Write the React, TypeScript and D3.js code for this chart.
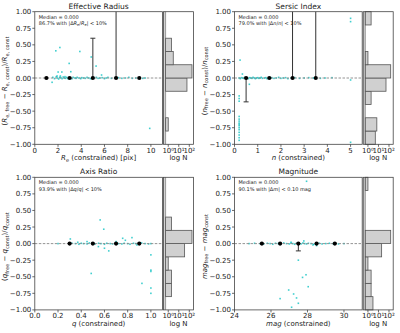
import React from 'react';
import * as d3 from 'd3';

// ---------- shared ----------
const binEdges = [-1, -0.8, -0.6, -0.4, -0.2, 0, 0.2, 0.4, 0.6, 0.8, 1.0];
const yTicks = [-1, -0.75, -0.5, -0.25, 0, 0.25, 0.5, 0.75, 1.0];
const histTicks = [1, 10, 100];
const histTickLabels = ['10⁰', '10¹', '10²'];

// ---------- Panel 1: Effective Radius ----------
const reXTicks = [0, 2, 4, 6, 8, 10];
const reZero: [number, number][] = [
  [1.55, 0.01], [1.7, -0.01], [1.85, 0.02], [1.95, 0.0], [2.05, -0.015], [2.15, 0.01], [2.25, 0.005], [2.35, -0.01],
  [2.45, 0.015], [2.55, 0.0], [2.65, -0.005], [2.75, 0.01], [2.85, -0.01], [2.95, 0.005], [3.05, 0.0], [3.2, -0.01],
  [3.3, 0.01], [3.45, 0.0], [3.55, -0.005], [3.65, 0.01], [3.8, 0.0], [3.95, -0.01], [4.05, 0.005], [4.2, 0.0],
  [4.35, -0.005], [4.5, 0.01], [4.65, 0.0], [4.8, -0.01], [4.95, 0.005], [5.1, 0.0], [5.3, 0.01], [5.45, -0.005],
  [5.6, 0.0], [5.8, 0.005], [6.0, -0.01], [6.15, 0.0], [6.3, 0.01], [6.6, -0.005], [6.9, 0.0], [7.2, 0.005],
  [7.5, -0.005], [7.8, 0.0], [8.1, 0.01], [8.4, -0.005], [8.7, 0.0], [9.0, 0.005], [9.3, -0.005], [9.5, 0.0],
];
const reOut: [number, number][] = [
  [1.81, 0.41], [2.16, 0.46], [3.88, 0.4], [2.96, 0.22], [4.86, 0.317], [5.28, 0.18], [2.01, 0.09], [2.33, 0.09],
  [3.1, 0.095], [1.92, 0.03], [1.49, -0.065], [5.75, 0.045], [9.9, -0.76], [2.2, 0.03], [2.6, 0.02],
];
const reBinX = [1, 3, 5, 7, 9];
const reBinY = [0, 0, 0, 0, 0];
const reErrLo = [0, 0, 0, 0, 0];
const reErrHi = [0, 0, 0.6, 1.5, 0];
const reHist = [0, 1, 0, 0, 60, 180, 3, 2, 0, 0];

// ---------- Panel 2: Sersic Index ----------
const nXTicks = [0, 1, 2, 3, 4, 5];
const nZero: [number, number][] = [
  [0.2, 0.0], [0.25, -0.01], [0.3, 0.005], [0.35, 0.0], [0.4, -0.005], [0.45, 0.01], [0.55, 0.0], [0.6, -0.01],
  [0.65, 0.005], [0.7, 0.0], [0.75, -0.005], [0.8, 0.01], [0.85, 0.0], [0.9, -0.01], [0.95, 0.0], [1.0, 0.005],
  [1.05, -0.005], [1.1, 0.0], [1.15, 0.01], [1.2, -0.005], [1.3, 0.0], [1.35, 0.005], [1.4, -0.01], [1.55, 0.0],
  [1.6, 0.005], [1.7, -0.005], [1.8, 0.0], [1.9, 0.01], [2.0, -0.005], [2.1, 0.0], [2.2, 0.005], [2.3, -0.01],
  [2.45, 0.0], [2.6, 0.005], [2.8, -0.005], [3.0, 0.0], [3.2, 0.005], [3.4, 0.0], [3.7, -0.005], [3.9, 0.0],
  [4.2, 0.005], [5.0, -0.03],
];
const nOut: [number, number][] = [
  [0.24, 0.27], [0.34, 0.06], [0.64, -0.095], [0.2, -0.27], [0.2, -0.31], [0.2, -0.35], [0.2, -0.58], [0.2, -0.62],
  [0.2, -0.65], [0.2, -0.68], [0.2, -0.7], [0.2, -0.72], [0.2, -0.75], [0.2, -0.78], [0.2, -0.82], [0.2, -0.86],
  [0.2, -0.9], [0.2, -0.94], [5.0, 0.9], [5.0, 0.85], [5.0, -0.97],
];
const nBinX = [0.5, 1.5, 2.5, 3.5];
const nBinY = [0, 0, 0, 0];
const nErrLo = [0.36, 0, 0, 0];
const nErrHi = [0, 0, 1.5, 1.5];
const nHist = [5, 7, 0, 2, 52, 145, 1, 0, 0, 2];

// ---------- Panel 3: Axis Ratio ----------
const qXTicks = [0, 0.2, 0.4, 0.6, 0.8, 1.0];
const qZero: [number, number][] = [
  [0.2, 0.0], [0.3, -0.005], [0.32, 0.005], [0.35, 0.0], [0.38, -0.01], [0.4, 0.005], [0.42, 0.0], [0.45, -0.005],
  [0.47, 0.01], [0.5, 0.0], [0.52, -0.005], [0.55, 0.005], [0.57, 0.0], [0.6, -0.01], [0.62, 0.005], [0.65, 0.0],
  [0.67, -0.005], [0.7, 0.01], [0.72, 0.0], [0.75, -0.005], [0.77, 0.005], [0.8, 0.0], [0.82, -0.01], [0.85, 0.005],
  [0.87, 0.0], [0.9, -0.005], [0.92, 0.01], [0.95, 0.0], [0.98, -0.005], [1.0, 0.0], [0.37, 0.02], [0.88, -0.02],
];
const qOut: [number, number][] = [
  [0.563, 0.357], [0.594, 0.217], [0.306, 0.07], [0.757, 0.08], [0.837, 0.09], [0.78, 0.05], [0.548, -0.045],
  [0.6, -0.07], [0.637, -0.11], [0.486, -0.45], [1.0, -0.17], [1.0, -0.4], [1.0, -0.42], [0.923, -0.6],
  [1.0, -0.67], [1.0, -0.75], [0.45, 0.03], [0.7, 0.03],
];
const qBinX = [0.3, 0.5, 0.7, 0.9];
const qBinY = [0, 0, 0, 0];
const qErrLo = [0, 0, 0, 0];
const qErrHi = [0, 0, 0, 0];
const qHist = [0, 2, 2, 1, 36, 180, 2, 0, 0, 0];

// ---------- Panel 4: Magnitude ----------
const mXTicks = [24, 26, 28, 30];
const mZero: [number, number][] = [
  [24.8, 0.0], [25.1, 0.005], [25.4, 0.0], [25.6, -0.005], [25.8, 0.005], [25.95, 0.0], [26.1, -0.01], [26.25, 0.005],
  [26.4, 0.0], [26.55, -0.005], [26.7, 0.01], [26.85, 0.0], [27.0, -0.005], [27.1, 0.005], [27.2, 0.0], [27.3, -0.01],
  [27.4, 0.005], [27.55, 0.0], [27.65, -0.005], [27.75, 0.01], [27.85, 0.0], [27.95, -0.005], [28.05, 0.005],
  [28.2, 0.0], [28.35, -0.01], [28.5, 0.0], [28.65, 0.005], [28.8, -0.005], [29.0, 0.0], [29.2, 0.005], [29.4, 0.0],
  [29.7, -0.005], [30.0, 0.0],
];
const mOut: [number, number][] = [
  [27.95, 0.94], [27.5, -0.25], [27.92, -0.47], [27.73, -0.51], [28.04, -0.65], [26.97, -0.7], [27.24, -0.76],
  [27.4, -0.82], [26.5, -0.83], [27.5, -0.9], [27.13, -0.96], [27.8, 0.04], [28.5, -0.03], [27.1, 0.02], [28.3, -0.02],
];
const mBinX = [25.5, 26.5, 27.5, 28.5, 29.5];
const mBinY = [0, 0, 0, 0, 0];
const mErrLo = [0, 0, 0.11, 0, 0];
const mErrHi = [0, 0, 0, 0, 0];
const mHist = [3, 2, 2, 1, 20, 145, 0, 0, 0, 1];

// ---------- layout ----------
const FONT = 'DejaVu Sans, sans-serif';
const AX_W = 127.7;
const AX_H = 132.6;
const HIST_GAP = 1;
const HIST_W = 30;
const SPINE = '#444';

type Seg = { t: string; i?: boolean; s?: boolean };

function MText(props: { segs: Seg[]; x: number; y: number; size: number; anchor?: string; rotate?: boolean; fill?: string }) {
  const { segs, x, y, size, anchor = 'start', rotate = false, fill = '#222' } = props;
  let prevSub = false;
  const shift = size * 0.28;
  const spans = segs.map((sg, k) => {
    let dy = 0;
    if (sg.s && !prevSub) dy = shift;
    if (!sg.s && prevSub) dy = -shift;
    prevSub = !!sg.s;
    return (
      <tspan key={k} dy={dy} fontStyle={sg.i ? 'italic' : 'normal'} fontSize={sg.s ? size * 0.72 : size}>
        {sg.t}
      </tspan>
    );
  });
  return (
    <text
      x={rotate ? 0 : x}
      y={rotate ? 0 : y}
      transform={rotate ? `translate(${x},${y}) rotate(-90)` : undefined}
      textAnchor={anchor as any}
      fontFamily={FONT}
      fontSize={size}
      fill={fill}
    >
      {spans}
    </text>
  );
}

type PanelProps = {
  id: string;
  left: number;
  top: number;
  title: string;
  xDomain: [number, number];
  xTicks: number[];
  xFmt: (v: number) => string;
  zero: [number, number][];
  out: [number, number][];
  binX: number[];
  binY: number[];
  errLo: number[];
  errHi: number[];
  hist: number[];
  ylabel: Seg[];
  xlabel: Seg[];
  ann2: Seg[];
};

function Panel(p: PanelProps) {
  const x = d3.scaleLinear().domain(p.xDomain).range([p.left, p.left + AX_W]);
  const y = d3.scaleLinear().domain([-1, 1]).range([p.top + AX_H, p.top]);
  const hl = p.left + AX_W + HIST_GAP;
  const hx = d3.scaleLog().domain([Math.pow(10, -0.45), Math.pow(10, 2.4)]).range([hl, hl + HIST_W]);
  const base = Math.pow(10, -0.25);
  const bottom = p.top + AX_H;
  const pts = p.zero.concat(p.out);
  const clipId = `clip-${p.id}`;
  return (
    <g>
      <defs>
        <clipPath id={clipId}>
          <rect x={p.left} y={p.top} width={AX_W} height={AX_H} />
        </clipPath>
      </defs>
      <text x={p.left + AX_W / 2} y={p.top - 3} textAnchor="middle" fontFamily={FONT} fontSize={7.5} fill="#222">
        {p.title}
      </text>
      <g clipPath={`url(#${clipId})`}>
        {pts.map((d, i) => (
          <rect key={i} x={x(d[0]) - 0.8} y={y(d[1]) - 0.8} width={1.6} height={1.6} fill="#00bfbf" opacity={0.75} />
        ))}
        <line x1={p.left} x2={p.left + AX_W} y1={y(0)} y2={y(0)} stroke="#888" strokeWidth={0.9} strokeDasharray="2.5,1.5" />
        {p.binX.map((bx, i) => {
          const lo = p.binY[i] - p.errLo[i];
          const hi = p.binY[i] + p.errHi[i];
          return (
            <g key={i} stroke="#333" strokeWidth={1}>
              {p.errLo[i] > 0 && (
                <>
                  <line x1={x(bx)} x2={x(bx)} y1={y(p.binY[i])} y2={y(lo)} />
                  <line x1={x(bx) - 2.5} x2={x(bx) + 2.5} y1={y(lo)} y2={y(lo)} />
                </>
              )}
              {p.errHi[i] > 0 && (
                <>
                  <line x1={x(bx)} x2={x(bx)} y1={y(p.binY[i])} y2={y(hi)} />
                  <line x1={x(bx) - 2.5} x2={x(bx) + 2.5} y1={y(hi)} y2={y(hi)} />
                </>
              )}
            </g>
          );
        })}
        {p.binX.map((bx, i) => (
          <circle key={i} cx={x(bx)} cy={y(p.binY[i])} r={2.1} fill="#000" />
        ))}
      </g>
      <rect x={p.left} y={p.top} width={AX_W} height={AX_H} fill="none" stroke={SPINE} strokeWidth={0.8} />
      {yTicks.map((t) => (
        <g key={t}>
          <line x1={p.left - 2.5} x2={p.left} y1={y(t)} y2={y(t)} stroke={SPINE} strokeWidth={0.8} />
          <text x={p.left - 3.5} y={y(t) + 2.5} textAnchor="end" fontFamily={FONT} fontSize={7} fill="#222">
            {d3.format('.2f')(t).replace('-', '−')}
          </text>
        </g>
      ))}
      {p.xTicks.map((t) => (
        <g key={t}>
          <line x1={x(t)} x2={x(t)} y1={bottom} y2={bottom + 2.5} stroke={SPINE} strokeWidth={0.8} />
          <text x={x(t)} y={bottom + 8.5} textAnchor="middle" fontFamily={FONT} fontSize={7} fill="#222">
            {p.xFmt(t)}
          </text>
        </g>
      ))}
      <MText segs={p.xlabel} x={p.left + AX_W / 2} y={bottom + 16} size={7} anchor="middle" />
      <MText segs={p.ylabel} x={p.left - 28} y={p.top + AX_H / 2 + 3} size={7} anchor="middle" rotate />
      <text x={p.left + 4} y={p.top + 7} fontFamily={FONT} fontSize={5} fill="#222">
        Median = 0.000
      </text>
      <MText segs={p.ann2} x={p.left + 4} y={p.top + 13.3} size={5} />
      <rect x={hl} y={p.top} width={hx(base) - hl} height={AX_H} fill="#d3d3d3" />
      <line x1={hx(base)} x2={hx(base)} y1={p.top} y2={bottom} stroke="#777" strokeWidth={0.7} />
      {p.hist.map((c, i) =>
        c > 0 ? (
          <rect
            key={i}
            x={hx(base)}
            y={y(binEdges[i + 1])}
            width={hx(c) - hx(base)}
            height={y(binEdges[i]) - y(binEdges[i + 1])}
            fill="#d0d0d0"
            stroke="#555"
            strokeWidth={0.8}
          />
        ) : null
      )}
      <rect x={hl} y={p.top} width={HIST_W} height={AX_H} fill="none" stroke={SPINE} strokeWidth={0.8} />
      {histTicks.map((t, i) => (
        <g key={t}>
          <line x1={hx(t)} x2={hx(t)} y1={bottom} y2={bottom + 2.5} stroke={SPINE} strokeWidth={0.8} />
          <text x={hx(t)} y={bottom + 8.5} textAnchor="middle" fontFamily={FONT} fontSize={7} fill="#222">
            {histTickLabels[i]}
          </text>
        </g>
      ))}
      <text x={hl + HIST_W / 2} y={bottom + 16} textAnchor="middle" fontFamily={FONT} fontSize={7} fill="#222">
        log N
      </text>
    </g>
  );
}

const fmtInt = (v: number) => d3.format('d')(v);
const fmt1 = (v: number) => d3.format('.1f')(v);

export default function App() {
  return (
    <svg width={400} height={333} style={{ position: 'absolute', left: 0, top: 0, background: '#fff' }}>
      <rect x={0} y={0} width={400} height={333} fill="#fff" />
      <Panel
        id="re"
        left={34.8}
        top={11.7}
        title="Effective Radius"
        xDomain={[0, 11]}
        xTicks={reXTicks}
        xFmt={fmtInt}
        zero={reZero}
        out={reOut}
        binX={reBinX}
        binY={reBinY}
        errLo={reErrLo}
        errHi={reErrHi}
        hist={reHist}
        ylabel={[
          { t: '(' }, { t: 'R', i: true }, { t: 'e, free', s: true }, { t: ' − ' }, { t: 'R', i: true },
          { t: 'e, const', s: true }, { t: ')/' }, { t: 'R', i: true }, { t: 'e, const', s: true },
        ]}
        xlabel={[{ t: 'R', i: true }, { t: 'e', s: true }, { t: ' (constrained) [pix]' }]}
        ann2={[
          { t: '86.7% with |Δ' }, { t: 'R', i: true }, { t: 'e', s: true }, { t: '/' }, { t: 'R', i: true },
          { t: 'e', s: true }, { t: '| < 10%' },
        ]}
      />
      <Panel
        id="n"
        left={234.5}
        top={11.7}
        title="Sersic Index"
        xDomain={[0, 5.5]}
        xTicks={nXTicks}
        xFmt={fmtInt}
        zero={nZero}
        out={nOut}
        binX={nBinX}
        binY={nBinY}
        errLo={nErrLo}
        errHi={nErrHi}
        hist={nHist}
        ylabel={[
          { t: '(' }, { t: 'n', i: true }, { t: 'free', s: true }, { t: ' − ' }, { t: 'n', i: true },
          { t: 'const', s: true }, { t: ')/' }, { t: 'n', i: true }, { t: 'const', s: true },
        ]}
        xlabel={[{ t: 'n', i: true }, { t: ' (constrained)' }]}
        ann2={[{ t: '79.0% with |Δ' }, { t: 'n', i: true }, { t: '/' }, { t: 'n', i: true }, { t: '| < 10%' }]}
      />
      <Panel
        id="q"
        left={34.8}
        top={177.3}
        title="Axis Ratio"
        xDomain={[0, 1.1]}
        xTicks={qXTicks}
        xFmt={fmt1}
        zero={qZero}
        out={qOut}
        binX={qBinX}
        binY={qBinY}
        errLo={qErrLo}
        errHi={qErrHi}
        hist={qHist}
        ylabel={[
          { t: '(' }, { t: 'q', i: true }, { t: 'free', s: true }, { t: ' − ' }, { t: 'q', i: true },
          { t: 'const', s: true }, { t: ')/' }, { t: 'q', i: true }, { t: 'const', s: true },
        ]}
        xlabel={[{ t: 'q', i: true }, { t: ' (constrained)' }]}
        ann2={[{ t: '93.9% with |Δ' }, { t: 'q', i: true }, { t: '/' }, { t: 'q', i: true }, { t: '| < 10%' }]}
      />
      <Panel
        id="m"
        left={234.5}
        top={177.3}
        title="Magnitude"
        xDomain={[24, 31]}
        xTicks={mXTicks}
        xFmt={fmtInt}
        zero={mZero}
        out={mOut}
        binX={mBinX}
        binY={mBinY}
        errLo={mErrLo}
        errHi={mErrHi}
        hist={mHist}
        ylabel={[{ t: 'mag', i: true }, { t: 'free', s: true }, { t: ' − ' }, { t: 'mag', i: true }, { t: 'const', s: true }]}
        xlabel={[{ t: 'mag', i: true }, { t: ' (constrained)' }]}
        ann2={[{ t: '90.1% with |Δ' }, { t: 'm', i: true }, { t: '| < 0.10 mag' }]}
      />
    </svg>
  );
}
